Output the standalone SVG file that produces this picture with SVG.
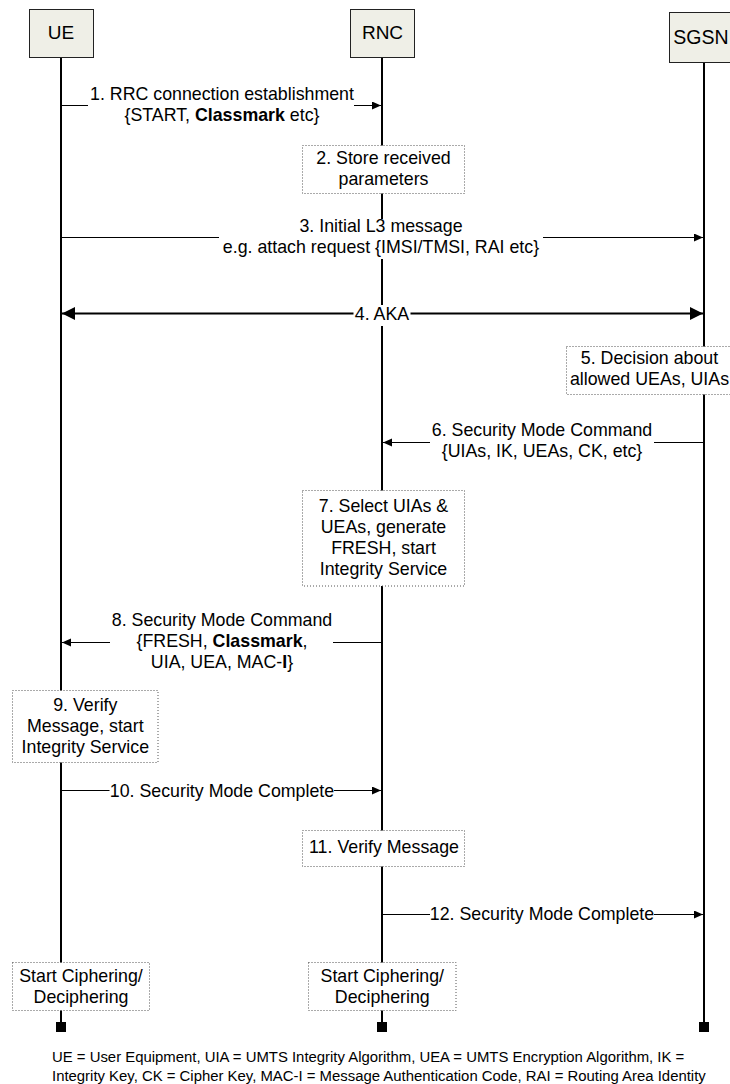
<svg xmlns="http://www.w3.org/2000/svg" width="730" height="1084" viewBox="0 0 730 1084">
  <style>
    text { font-family: "Liberation Sans", Arial, sans-serif; font-size: 17.8px; fill: #000; text-anchor: middle; }
    .hdr { fill: #efefe7; stroke: #222; stroke-width: 1; }
    .hdrtext { font-size: 19px; }
    .life { stroke: #000; stroke-width: 2; fill: none; }
    .end { fill: #000; }
    .msg { stroke: #000; stroke-width: 1; fill: none; }
    .aka { stroke: #000; stroke-width: 2; fill: none; }
    .lbg { fill: #fff; stroke: none; }
    .note { fill: #fff; stroke: #555; stroke-width: 1; stroke-dasharray: 1 2; }
    .foot { font-size: 14.9px; text-anchor: start; }
    .b { font-weight: bold; }
  </style>
  <defs>
    <marker id="arr" markerUnits="userSpaceOnUse" markerWidth="10" markerHeight="9" refX="9" refY="4" orient="auto">
      <path d="M0,0 L9,4 L0,8 z" fill="#000"/>
    </marker>
    <marker id="arrBig" markerUnits="userSpaceOnUse" markerWidth="14" markerHeight="14" refX="13" refY="6.5" orient="auto-start-reverse">
      <path d="M0,0 L13,6.5 L0,13 z" fill="#000"/>
    </marker>
  </defs>
  <rect x="0" y="0" width="730" height="1084" fill="#fff"/>

  <!-- lifelines -->
  <g id="lifelines">
    <line class="life" x1="61" y1="57" x2="61" y2="1022"/>
    <line class="life" x1="382" y1="57" x2="382" y2="1022"/>
    <line class="life" x1="704" y1="62" x2="704" y2="1022"/>
    <rect class="end" x="56" y="1022" width="10" height="10"/>
    <rect class="end" x="377" y="1022" width="10" height="10"/>
    <rect class="end" x="699" y="1022" width="10" height="10"/>
  </g>

  <!-- participants -->
  <g id="UE">
    <rect class="hdr" x="29.5" y="9.5" width="64" height="48"/>
    <text class="hdrtext" x="61" y="39">UE</text>
  </g>
  <g id="RNC">
    <rect class="hdr" x="350.5" y="9.5" width="64" height="48"/>
    <text class="hdrtext" x="382.5" y="39">RNC</text>
  </g>
  <g id="SGSN">
    <rect class="hdr" x="669.5" y="12.5" width="70" height="50"/>
    <text class="hdrtext" x="701" y="43.5" style="font-size:19.5px">SGSN</text>
  </g>

  <!-- connectors -->
  <g id="connectors">
    <g id="m1">
      <line class="msg" x1="62" y1="105.5" x2="381" y2="105.5" marker-end="url(#arr)"/>
      <rect class="lbg" x="88" y="87" width="266" height="39"/>
      <text x="222" y="100">1. RRC connection establishment</text>
      <text x="222" y="121">{START, <tspan class="b">Classmark</tspan> etc}</text>
    </g>
    <g id="m3">
      <line class="msg" x1="62" y1="237.5" x2="703" y2="237.5" marker-end="url(#arr)"/>
      <rect class="lbg" x="219" y="219" width="324" height="40"/>
      <text x="381" y="231.7">3. Initial L3 message</text>
      <text x="381" y="253">e.g. attach request {IMSI/TMSI, RAI etc}</text>
    </g>
    <g id="m4">
      <line class="aka" x1="62" y1="313.5" x2="703" y2="313.5" marker-start="url(#arrBig)" marker-end="url(#arrBig)"/>
      <rect class="lbg" x="353.5" y="305" width="57" height="21"/>
      <text x="382" y="319.5">4. AKA</text>
    </g>
    <g id="m6">
      <line class="msg" x1="703" y1="442.5" x2="383" y2="442.5" marker-end="url(#arr)"/>
      <rect class="lbg" x="430" y="422" width="224" height="40"/>
      <text x="542" y="436">6. Security Mode Command</text>
      <text x="542" y="457.3">{UIAs, IK, UEAs, CK, etc}</text>
    </g>
    <g id="m8">
      <line class="msg" x1="381" y1="642.5" x2="62" y2="642.5" marker-end="url(#arr)"/>
      <rect class="lbg" x="110" y="611" width="223" height="62"/>
      <text x="222" y="625.7">8. Security Mode Command</text>
      <text x="222" y="646.7">{FRESH, <tspan class="b">Classmark</tspan>,</text>
      <text x="222" y="667.5">UIA, UEA, MAC-<tspan class="b">I</tspan>}</text>
    </g>
    <g id="m10">
      <line class="msg" x1="62" y1="790.5" x2="381" y2="790.5" marker-end="url(#arr)"/>
      <rect class="lbg" x="109.5" y="782" width="224.5" height="18"/>
      <text x="222" y="796.5">10. Security Mode Complete</text>
    </g>
    <g id="m12">
      <line class="msg" x1="383" y1="914.5" x2="703" y2="914.5" marker-end="url(#arr)"/>
      <rect class="lbg" x="430" y="906" width="224" height="18"/>
      <text x="542" y="920.3">12. Security Mode Complete</text>
    </g>
  </g>

  <!-- notes -->
  <g id="n2">
    <rect class="note" x="302.5" y="145.5" width="162" height="48"/>
    <text x="383.5" y="164.3">2. Store received</text>
    <text x="383.5" y="184.8">parameters</text>
  </g>
  <g id="n5">
    <rect class="note" x="566.5" y="346.5" width="175" height="48"/>
    <text x="649.5" y="363.5">5. Decision about</text>
    <text x="649.5" y="385">allowed UEAs, UIAs</text>
  </g>
  <g id="n7">
    <rect class="note" x="302.5" y="490.5" width="162" height="95.5"/>
    <text x="383.5" y="511.7">7. Select UIAs &amp;</text>
    <text x="383.5" y="532.9">UEAs, generate</text>
    <text x="383.5" y="554">FRESH, start</text>
    <text x="383.5" y="575">Integrity Service</text>
  </g>
  <g id="n9">
    <rect class="note" x="12.5" y="690.5" width="145.5" height="72"/>
    <text x="85.3" y="710.7">9. Verify</text>
    <text x="85.3" y="731.7">Message, start</text>
    <text x="85.3" y="752.7">Integrity Service</text>
  </g>
  <g id="n11">
    <rect class="note" x="302.5" y="830.5" width="162" height="36"/>
    <text x="384" y="853.3">11. Verify Message</text>
  </g>
  <g id="nStartUE">
    <rect class="note" x="12.5" y="962.5" width="137" height="48"/>
    <text x="81" y="981.5">Start Ciphering/</text>
    <text x="81" y="1002.5">Deciphering</text>
  </g>
  <g id="nStartRNC">
    <rect class="note" x="308.5" y="962.5" width="147.5" height="48"/>
    <text x="382.3" y="981.5">Start Ciphering/</text>
    <text x="382.3" y="1002.5">Deciphering</text>
  </g>

  <!-- footnote -->
  <g id="footnote">
    <text class="foot" x="52" y="1062">UE = User Equipment, UIA = UMTS Integrity Algorithm, UEA = UMTS Encryption Algorithm, IK =</text>
    <text class="foot" x="52" y="1080.5">Integrity Key, CK = Cipher Key, MAC-I = Message Authentication Code, RAI = Routing Area Identity</text>
  </g>
</svg>
